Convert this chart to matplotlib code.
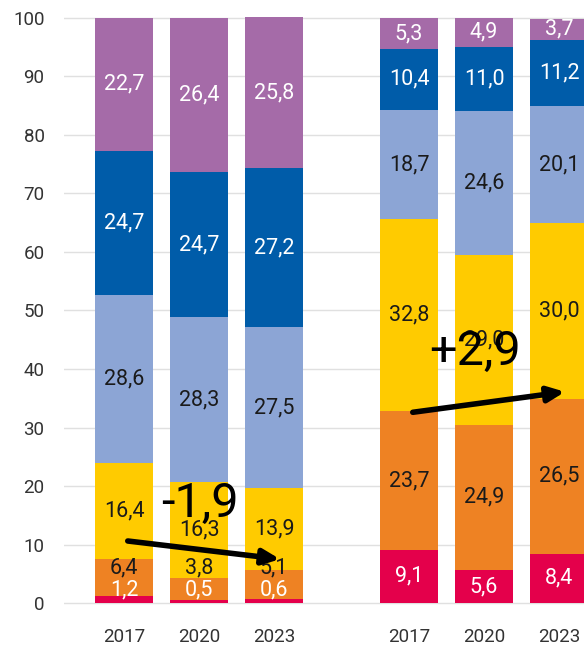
import numpy as np
import matplotlib
matplotlib.use("Agg")
import matplotlib.pyplot as plt

plt.rcParams['font.family'] = ['Roboto', 'DejaVu Sans']

years = ["2017", "2020", "2023", "2017", "2020", "2023"]
xpos = [0, 1, 2, 3.8, 4.8, 5.8]

# stacked shares, bottom to top
s1 = [1.2, 0.5, 0.6, 9.1, 5.6, 8.4]
s2 = [6.4, 3.8, 5.1, 23.7, 24.9, 26.5]
s3 = [16.4, 16.3, 13.9, 32.8, 29.0, 30.0]
s4 = [28.6, 28.3, 27.5, 18.7, 24.6, 20.1]
s5 = [24.7, 24.7, 27.2, 10.4, 11.0, 11.2]
s6 = [22.7, 26.4, 25.8, 5.3, 4.9, 3.7]

series = [s1, s2, s3, s4, s5, s6]
colors = ["#E4004B", "#EE8223", "#FFCB00", "#8CA5D5", "#005CA9", "#A56BA8"]
txtcol = ["white", "#1a1a1a", "#1a1a1a", "#1a1a1a", "white", "white"]

fig = plt.figure(figsize=(5.84, 6.46), dpi=100)
ax = fig.add_axes([0.1096, 0.0575, 0.8904, 0.9237])

bottom = np.zeros(len(xpos))
centers = []
for vals, c in zip(series, colors):
    vals = np.array(vals)
    ax.bar(xpos, vals, bottom=bottom, width=0.78, color=c, zorder=2)
    centers.append(bottom + vals / 2)
    bottom = bottom + vals

# labels, pushed up when the bottom segments are too thin
for j in range(len(xpos)):
    prev = -1.6
    for k in range(len(series)):
        y = max(centers[k][j], prev + 3.8)
        prev = y
        ax.text(xpos[j], y, f"{series[k][j]:.1f}".replace(".", ","),
                ha="center", va="center", fontsize=15.5,
                color=txtcol[k], zorder=3)

# change arrows
ax.annotate("", xy=(2.08, 7.5), xytext=(0.05, 10.6),
            arrowprops=dict(arrowstyle="-|>,head_length=1.0,head_width=0.45",
                            lw=4, color="black", shrinkA=0, shrinkB=0), zorder=5)
ax.text(1.01, 17.0, "-1,9", fontsize=35, ha="center", va="center", color="black", zorder=5)
ax.annotate("", xy=(5.88, 36.1), xytext=(3.85, 32.6),
            arrowprops=dict(arrowstyle="-|>,head_length=1.0,head_width=0.45",
                            lw=4, color="black", shrinkA=0, shrinkB=0), zorder=5)
ax.text(4.68, 42.9, "+2,9", fontsize=35, ha="center", va="center", color="black", zorder=5)

ax.set_xlim(-0.8, 6.133)
ax.set_ylim(-1, 101)
ax.set_yticks(range(0, 101, 10))
ax.set_xticks(xpos)
ax.set_xticklabels(years)
ax.tick_params(axis="both", length=0, labelsize=13.5, labelcolor="#333333")
ax.tick_params(axis="y", pad=14)
ax.tick_params(axis="x", pad=14)
ax.grid(axis="y", color="#e0e0e0", lw=1, zorder=0)
for sp in ax.spines.values():
    sp.set_visible(False)

fig.savefig("out.png", dpi=100)
